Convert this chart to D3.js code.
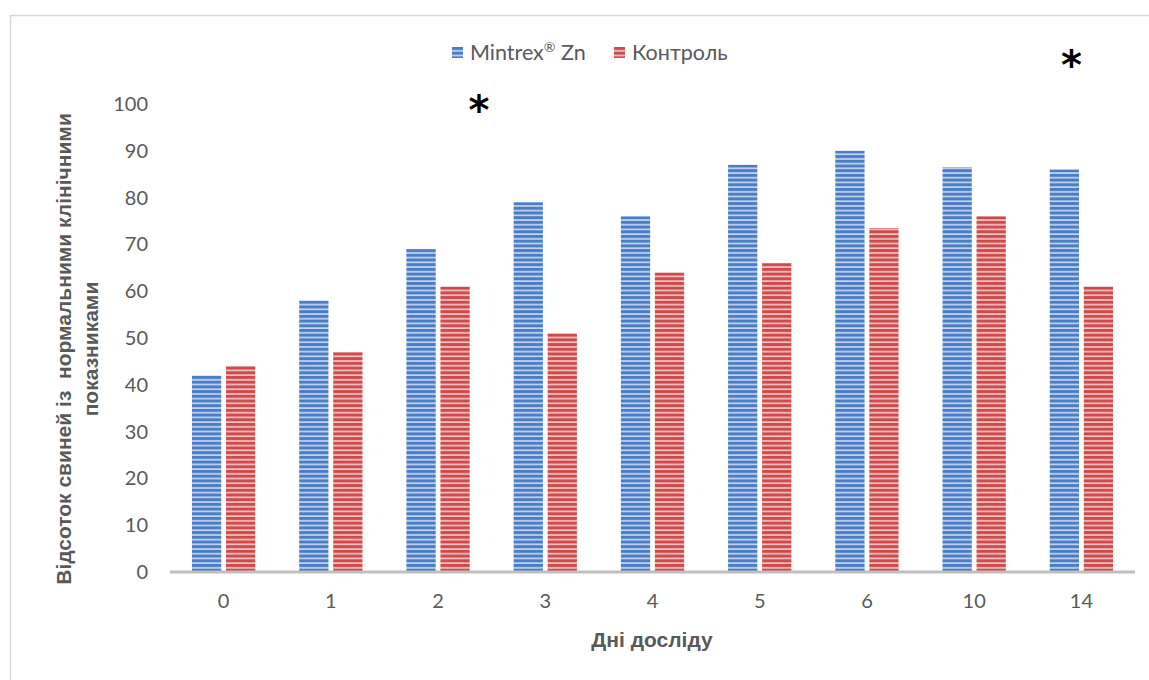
<!DOCTYPE html>
<html><head><meta charset="utf-8">
<script src="https://cdn.jsdelivr.net/npm/d3@7"></script>
<style>body{margin:0;background:#fff}</style>
</head><body>
<svg id="c" width="1149" height="680"></svg>
<script>
const categories = ["0","1","2","3","4","5","6","10","14"];
const seriesNames = ["Mintrex® Zn","Контроль"];
const mintrex = [42,58,69,79,76,87,90,86.5,86];
const control = [44,47,61,51,64,66,73.5,76,61];
const yTicks = [0,10,20,30,40,50,60,70,80,90,100];

const svg = d3.select("#c");
svg.append("rect").attr("x",10.5).attr("y",15.5).attr("width",1160).attr("height",700)
  .attr("fill","#fff").attr("stroke","#d9d9d9").attr("stroke-width",1.5);

const defs = svg.append("defs");
function pat(id, base, light){
  const p = defs.append("pattern").attr("id",id).attr("patternUnits","userSpaceOnUse")
    .attr("width",8).attr("height",4.7);
  p.append("rect").attr("width",8).attr("height",4.7).attr("fill",base);
  p.append("rect").attr("y",3.1).attr("width",8).attr("height",1.5).attr("fill",light);
}
pat("pb","#4a7dc6","#d3e1f5");
pat("pr","#cf4a4a","#f5d3d3");
const fills=["url(#pb)","url(#pr)"];

const x0 = d3.scaleBand().domain(categories).range([170,1135]).paddingInner(0.41).paddingOuter(0.205);
const x1 = d3.scaleBand().domain([0,1]).range([0,x0.bandwidth()]).paddingInner(0.14);
const y = d3.scaleLinear().domain([0,100]).range([572,104]);

const data = categories.map((c,i)=>({c, v:[mintrex[i],control[i]]}));
const g = svg.append("g");
data.forEach(d=>{
  d.v.forEach((v,j)=>{
    g.append("rect").attr("x",x0(d.c)+x1(j)).attr("y",y(v))
      .attr("width",x1.bandwidth()).attr("height",y(0)-y(v)).attr("fill",fills[j]);
  });
});

const tickFont = "Lato, 'Open Sans', sans-serif";
const yAxis = d3.axisLeft(y).tickValues(yTicks).tickSize(0).tickPadding(0);
const ya = svg.append("g").attr("transform","translate(148,0)").call(yAxis);
ya.select(".domain").remove();
ya.selectAll("text").attr("font-family",tickFont).attr("font-size",20).attr("fill","#595959");

const xAxis = d3.axisBottom(x0).tickSize(0).tickPadding(22);
const xa = svg.append("g").attr("transform","translate(0,572)").call(xAxis);
xa.select(".domain").attr("stroke","#bfbfbf").attr("stroke-width",3).attr("d","M170,0H1135");
xa.selectAll("text").attr("font-family",tickFont).attr("font-size",20).attr("fill","#595959");

const titleFont = "'Liberation Sans', Arial, sans-serif";
svg.append("text").attr("x",652).attr("y",647).attr("text-anchor","middle")
  .attr("font-family",titleFont).attr("font-weight","bold").attr("font-size",21).attr("fill","#595959")
  .text("Дні досліду");
const yt = svg.append("text").attr("transform","rotate(-90)").style("white-space","pre")
  .attr("font-family",titleFont).attr("font-weight","bold").attr("font-size",21).attr("fill","#595959").attr("text-anchor","middle");
yt.append("tspan").attr("x",-349).attr("y",71).text("Відсоток свиней із  нормальними клінічними");
yt.append("tspan").attr("x",-349).attr("y",98).text("показниками");

const lg = svg.append("g");
const lx=[452,614];
seriesNames.forEach((n,i)=>{
  lg.append("rect").attr("x",lx[i]).attr("y",47).attr("width",11).attr("height",11).attr("fill",fills[i]);
  const t = lg.append("text").attr("x",lx[i]+18).attr("y",60).attr("font-family",tickFont)
    .attr("font-size",21.5).attr("fill","#595959");
  const k = n.indexOf("®");
  if(k>=0){
    t.append("tspan").text(n.slice(0,k));
    t.append("tspan").attr("font-size",14).attr("dy",-8).text("®");
    t.append("tspan").attr("dy",8).text(n.slice(k+1));
  } else t.text(n);
});

const astPos = [{c:"2",dx:41,yy:124},{c:"14",dx:-10,yy:79}];
astPos.forEach(a=>{
  svg.append("text").attr("x",x0(a.c)+x0.bandwidth()/2+a.dx).attr("y",a.yy).attr("text-anchor","middle")
    .attr("font-family","'DejaVu Sans', sans-serif").attr("font-weight","bold").attr("font-size",40).attr("fill","#000").text("*");
});
</script>
</body></html>
